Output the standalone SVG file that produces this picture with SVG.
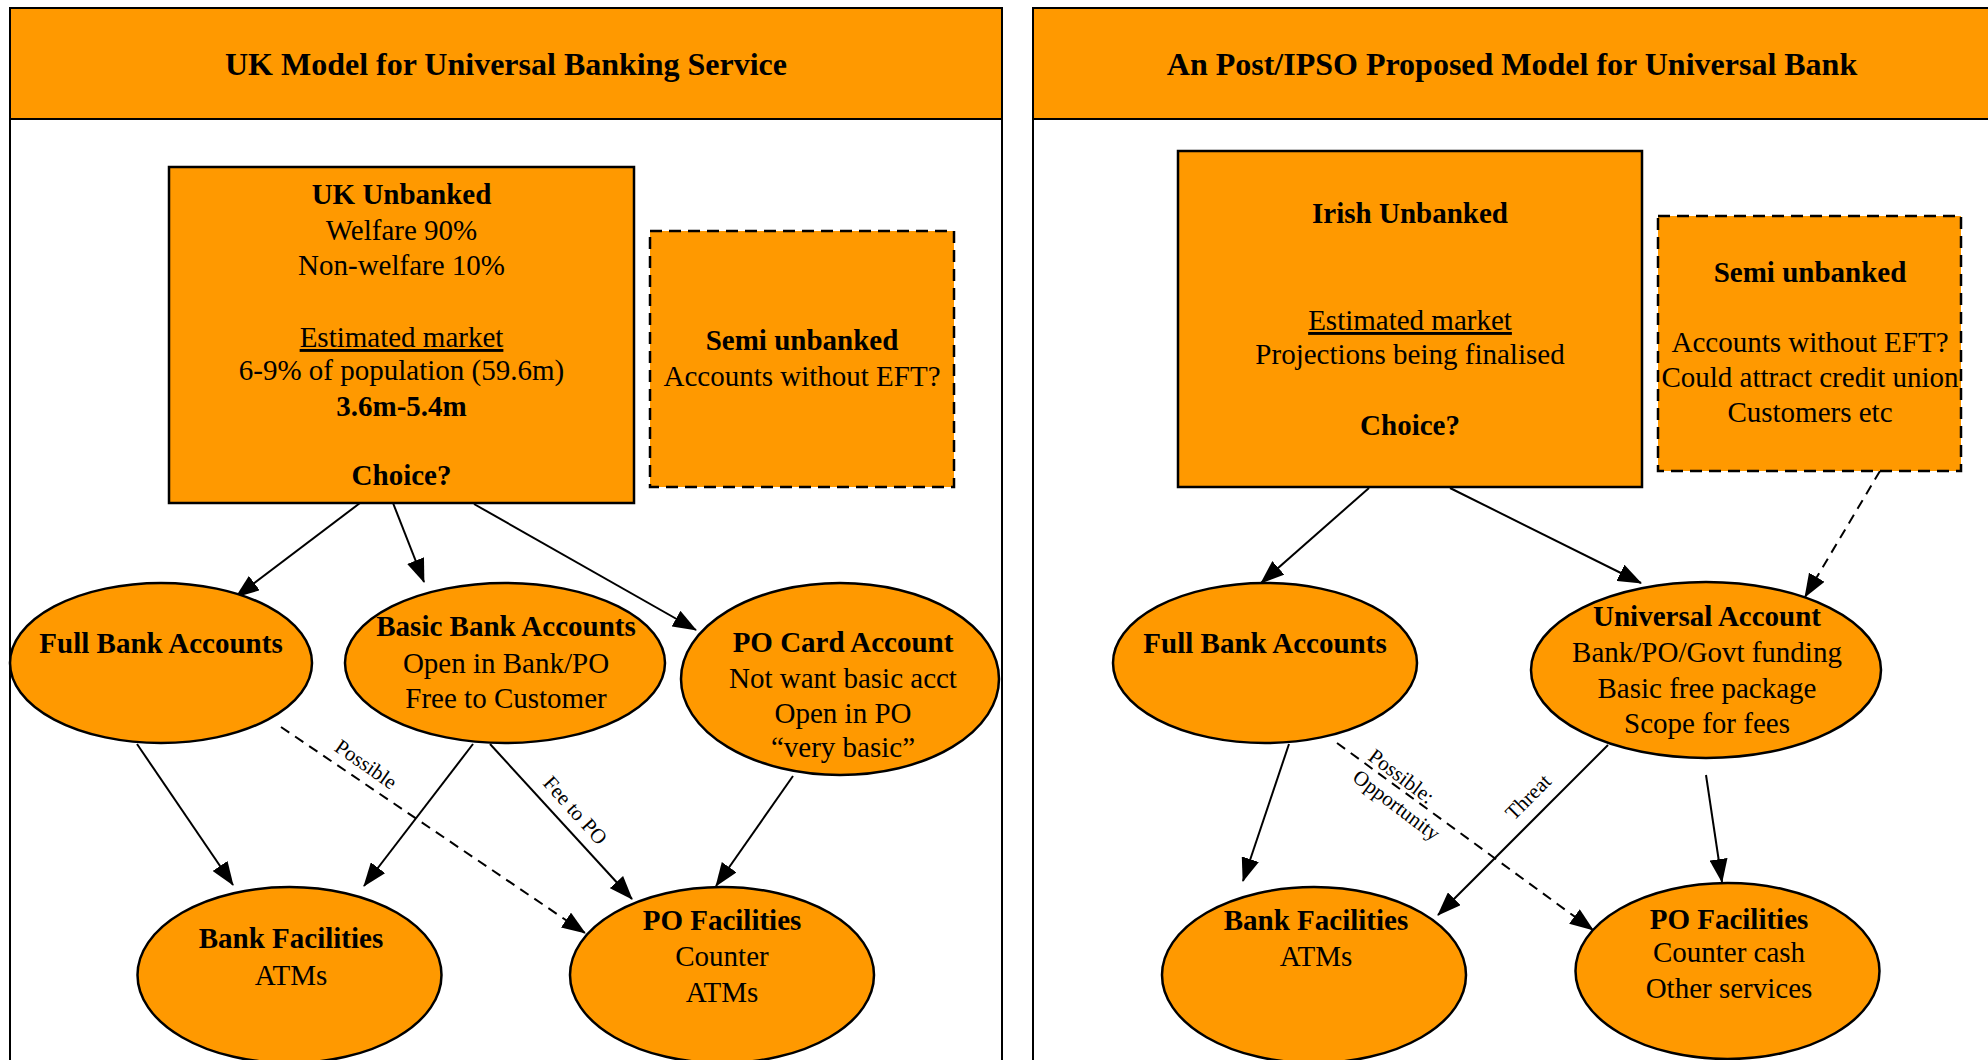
<svg xmlns="http://www.w3.org/2000/svg" width="1988" height="1060" viewBox="0 0 1988 1060">
<style>
text{font-family:"Liberation Serif","Times New Roman",serif;fill:#000}
.t{font-size:32px;font-weight:bold;text-anchor:middle}
.b{font-size:29px;text-anchor:middle}
.bb{font-size:29px;font-weight:bold;text-anchor:middle}
.u{text-decoration:underline}
.lab{font-size:21px}
.node{fill:#FF9900;stroke:#000;stroke-width:2.5}
.dash{stroke-dasharray:12 7}
.panel{fill:#fff;stroke:#000;stroke-width:2}
.head{fill:#FF9900;stroke:#000;stroke-width:2}
.c{stroke:#000;stroke-width:2;fill:none;marker-end:url(#ah)}
.cd{stroke-dasharray:10 7}
</style>
<defs>
<marker id="ah" markerUnits="userSpaceOnUse" markerWidth="24" markerHeight="18" refX="23" refY="9" orient="auto">
<path d="M0,0 L24,9 L0,18 z" fill="#000"/>
</marker>
</defs>
<rect width="1988" height="1060" fill="#fff"/>
<g id="panel-left">
<rect class="panel" x="10" y="8" width="992" height="1070"/>
<rect class="head" x="10" y="8" width="992" height="111"/>
<text class="t" x="506" y="75">UK Model for Universal Banking Service</text>
</g>
<g id="panel-right">
<rect class="panel" x="1033" y="8" width="962" height="1070"/>
<rect class="head" x="1033" y="8" width="962" height="111"/>
<text class="t" x="1512" y="75">An Post/IPSO Proposed Model for Universal Bank</text>
</g>
<g id="connectors">
<line class="c" x1="360" y1="503" x2="236" y2="597"/>
<line class="c" x1="393" y1="503" x2="424" y2="582"/>
<line class="c" x1="474" y1="504" x2="696" y2="630"/>
<line class="c" x1="137" y1="744" x2="233" y2="885"/>
<line class="c" x1="473" y1="744" x2="364" y2="886"/>
<line class="c" x1="490" y1="744" x2="632" y2="899"/>
<line class="c cd" x1="281" y1="727" x2="585" y2="933"/>
<line class="c" x1="793" y1="776" x2="716" y2="886"/>
<line class="c" x1="1369" y1="488" x2="1261" y2="583"/>
<line class="c" x1="1450" y1="488" x2="1641" y2="583"/>
<line class="c cd" x1="1880" y1="471" x2="1805" y2="597"/>
<line class="c" x1="1289" y1="744" x2="1243" y2="881"/>
<line class="c" x1="1608" y1="745" x2="1438" y2="915"/>
<line class="c cd" x1="1337" y1="743" x2="1593" y2="930"/>
<line class="c" x1="1706" y1="775" x2="1722" y2="882"/>
<text class="lab" text-anchor="middle" transform="translate(362,770) rotate(35)">Possible</text>
<text class="lab" text-anchor="middle" transform="translate(570,815) rotate(48)">Fee to PO</text>
<text class="lab" transform="translate(1367,759) rotate(37)"><tspan x="0" y="0">Possible:</tspan><tspan x="0" y="26">Opportunity</tspan></text>
<text class="lab" text-anchor="middle" transform="translate(1533,802) rotate(-45)">Threat</text>
</g>
<g id="uk-unbanked">
<rect class="node" x="169" y="167" width="465" height="336"/>
<text class="bb" x="401.5" y="204">UK Unbanked</text>
<text class="b" x="401.5" y="240">Welfare 90%</text>
<text class="b" x="401.5" y="275">Non-welfare 10%</text>
<text class="b u" x="401.5" y="347">Estimated market</text>
<text class="b" x="401.5" y="380">6-9% of population (59.6m)</text>
<text class="bb" x="401.5" y="416">3.6m-5.4m</text>
<text class="bb" x="401.5" y="485">Choice?</text>
</g>
<g id="semi-unbanked-left">
<rect class="node dash" x="650" y="231" width="304" height="256"/>
<text class="bb" x="802" y="350">Semi unbanked</text>
<text class="b" x="802" y="386">Accounts without EFT?</text>
</g>
<g id="full-bank-left">
<ellipse class="node" cx="161" cy="663" rx="151" ry="80"/>
<text class="bb" x="161" y="653">Full Bank Accounts</text>
</g>
<g id="basic-bank">
<ellipse class="node" cx="505" cy="663" rx="160" ry="80"/>
<text class="bb" x="506" y="636">Basic Bank Accounts</text>
<text class="b" x="506" y="673">Open in Bank/PO</text>
<text class="b" x="506" y="708">Free to Customer</text>
</g>
<g id="po-card">
<ellipse class="node" cx="840" cy="679" rx="159" ry="96"/>
<text class="bb" x="843" y="652">PO Card Account</text>
<text class="b" x="843" y="688">Not want basic acct</text>
<text class="b" x="843" y="723">Open in PO</text>
<text class="b" x="843" y="757">“very basic”</text>
</g>
<g id="bank-facilities-left">
<ellipse class="node" cx="289.5" cy="975" rx="152" ry="88"/>
<text class="bb" x="291" y="948">Bank Facilities</text>
<text class="b" x="291" y="985">ATMs</text>
</g>
<g id="po-facilities-left">
<ellipse class="node" cx="722" cy="975" rx="152" ry="88"/>
<text class="bb" x="722" y="930">PO Facilities</text>
<text class="b" x="722" y="966">Counter</text>
<text class="b" x="722" y="1002">ATMs</text>
</g>
<g id="irish-unbanked">
<rect class="node" x="1178" y="151" width="464" height="336"/>
<text class="bb" x="1410" y="223">Irish Unbanked</text>
<text class="b u" x="1410" y="330">Estimated market</text>
<text class="b" x="1410" y="364">Projections being finalised</text>
<text class="bb" x="1410" y="435">Choice?</text>
</g>
<g id="semi-unbanked-right">
<rect class="node dash" x="1658" y="216" width="303" height="255"/>
<text class="bb" x="1810" y="282">Semi unbanked</text>
<text class="b" x="1810" y="352">Accounts without EFT?</text>
<text class="b" x="1810" y="387">Could attract credit union</text>
<text class="b" x="1810" y="422">Customers etc</text>
</g>
<g id="full-bank-right">
<ellipse class="node" cx="1265" cy="663" rx="152" ry="80"/>
<text class="bb" x="1265" y="653">Full Bank Accounts</text>
</g>
<g id="universal-account">
<ellipse class="node" cx="1706" cy="670" rx="175" ry="88"/>
<text class="bb" x="1707" y="626">Universal Account</text>
<text class="b" x="1707" y="662">Bank/PO/Govt funding</text>
<text class="b" x="1707" y="698">Basic free package</text>
<text class="b" x="1707" y="733">Scope for fees</text>
</g>
<g id="bank-facilities-right">
<ellipse class="node" cx="1314" cy="975" rx="152" ry="88"/>
<text class="bb" x="1316" y="930">Bank Facilities</text>
<text class="b" x="1316" y="966">ATMs</text>
</g>
<g id="po-facilities-right">
<ellipse class="node" cx="1727.5" cy="971" rx="152" ry="88"/>
<text class="bb" x="1729" y="929">PO Facilities</text>
<text class="b" x="1729" y="962">Counter cash</text>
<text class="b" x="1729" y="998">Other services</text>
</g>
</svg>
